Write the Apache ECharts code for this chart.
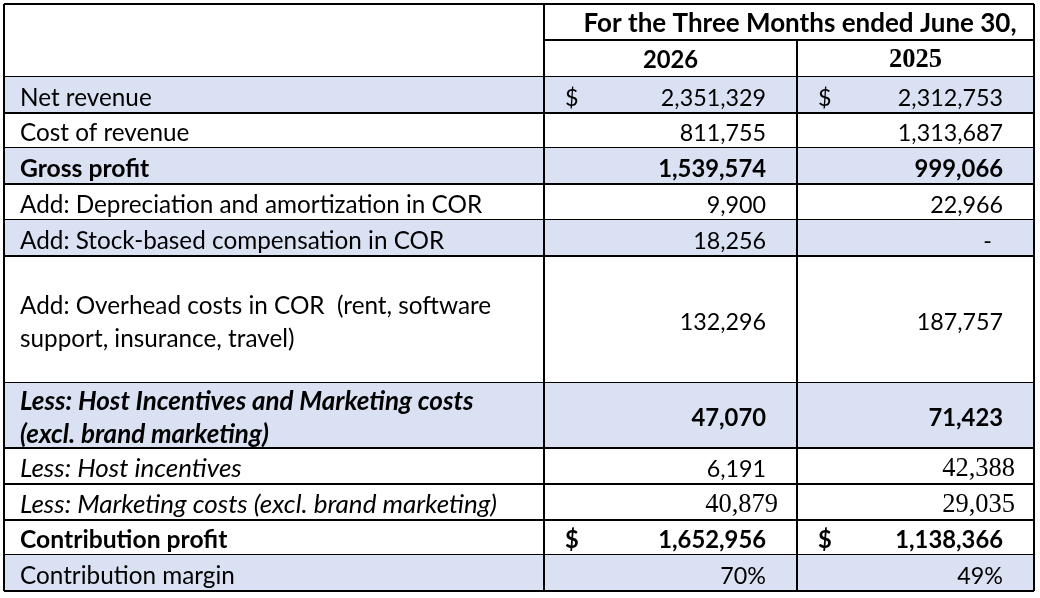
<!DOCTYPE html>
<html>
<head>
<meta charset="utf-8">
<title>Contribution profit</title>
<script src="https://cdn.jsdelivr.net/npm/echarts@6/dist/echarts.min.js"></script>
<style>
  html, body { margin: 0; padding: 0; background: #fff; }
  #main { width: 1040px; height: 598px; }
</style>
</head>
<body>
<div id="main"></div>
<script>
/* 表格数据 */
var headerTitle = 'For the Three Months ended June 30,';
var periods = ['2026', '2025'];
var rowLabels = [
  ['Net revenue'],
  ['Cost of revenue'],
  ['Gross profit'],
  ['Add: Depreciation and amortization in COR'],
  ['Add: Stock-based compensation in COR'],
  ['Add: Overhead costs in COR  (rent, software', 'support, insurance, travel)'],
  ['Less: Host Incentives and Marketing costs', '(excl. brand marketing)'],
  ['Less: Host incentives'],
  ['Less: Marketing costs (excl. brand marketing)'],
  ['Contribution profit'],
  ['Contribution margin']
];
var values2026 = [2351329, 811755, 1539574, 9900, 18256, 132296, 47070, 6191, 40879, 1652956, 70];
var values2025 = [2312753, 1313687, 999066, 22966, null, 187757, 71423, 42388, 29035, 1138366, 49];
var dollarRows = [0, 9];
var percentRows = [10];

/* 样式 */
var SANS = 'Lato';
var SERIF = 'Liberation Serif';
var size = {
  label: 24.3,      // 普通文字
  labelBold: 24.7,
  labelItalic: 26,  // 斜体（含粗斜体）
  num: 23.3,
  numBold: 23.8,
  serif: 26.5,
  title: 26
};
var shade = '#D9E1F2';
var shadedRows = [0, 2, 4, 6, 10];
var boldRows = [2, 6, 9];
var italicRows = [6, 7, 8];
// 哪些格子用衬线字体 "行-列"
var serifCells = ['7-1', '8-0', '8-1'];

/* 布局（像素） */
var colEdges = [4, 544, 797, 1034];
var headerEdges = [4, 40, 77];
var rowEdges = [77, 113, 148, 184, 220, 256, 383, 448, 484, 520, 555, 591];

function fmt(v, row) {
  if (v === null || v === undefined) return '-';
  if (percentRows.indexOf(row) >= 0) return v + '%';
  return v.toLocaleString('en-US');
}

function font(weight, italic, px, family) {
  return (italic ? 'italic ' : '') + (weight ? 'bold ' : '') + px + 'px "' + family + '"';
}

function txt(x, y, text, f, align) {
  return {
    type: 'text',
    style: {
      x: x, y: y, text: text, font: f, fill: '#000',
      align: align, verticalAlign: 'middle',
      textAlign: align, textVerticalAlign: 'middle'
    }
  };
}

function line(x1, y1, x2, y2) {
  return {
    type: 'line',
    shape: { x1: x1, y1: y1, x2: x2, y2: y2 },
    style: { stroke: '#000', lineWidth: 2 }
  };
}

function renderHeader(params, api) {
  var p = function (x, y) { return api.coord([x, y]); };
  var l = p(colEdges[0], headerEdges[0]), r = p(colEdges[3], headerEdges[2]);
  var c1 = p(colEdges[1], headerEdges[1]), c2 = p(colEdges[2], headerEdges[1]);
  var children = [
    line(l[0], l[1], r[0], l[1]),
    line(l[0], l[1], l[0], r[1]),
    line(c1[0], l[1], c1[0], r[1]),
    line(r[0], l[1], r[0], r[1]),
    line(c1[0], c1[1], r[0], c1[1]),
    line(c2[0], c2[1], c2[0], r[1]),
    line(l[0], r[1], r[0], r[1])
  ];
  var y1 = (l[1] + c1[1]) / 2 + 1.5;
  var y2 = (c1[1] + r[1]) / 2 + 1.5;
  // 标题略偏左（原表末尾有空格）
  children.push(txt((c1[0] + r[0]) / 2 + 11, y1, headerTitle, font(true, false, size.title, SANS), 'center'));
  children.push(txt((c1[0] + c2[0]) / 2, y2, periods[0], font(true, false, size.numBold, SANS), 'center'));
  children.push(txt((c2[0] + r[0]) / 2, y2, periods[1], font(true, false, size.serif, SERIF), 'center'));
  return { type: 'group', children: children };
}

function renderRow(params, api) {
  var i = api.value(0);
  var top = api.coord([0, rowEdges[i]])[1];
  var bottom = api.coord([0, rowEdges[i + 1]])[1];
  var xs = colEdges.map(function (x) { return api.coord([x, 0])[0]; });
  var children = [];
  if (shadedRows.indexOf(i) >= 0) {
    children.push({
      type: 'rect',
      shape: { x: xs[0], y: top, width: xs[3] - xs[0], height: bottom - top },
      style: { fill: shade }
    });
  }
  xs.forEach(function (x) { children.push(line(x, top, x, bottom)); });
  children.push(line(xs[0], bottom, xs[3], bottom));

  var bold = boldRows.indexOf(i) >= 0;
  var italic = italicRows.indexOf(i) >= 0;
  var mid = (top + bottom) / 2 + 3;
  var lines = rowLabels[i];
  var lh = 33;
  var labelSize = italic ? size.labelItalic : (bold ? size.labelBold : size.label);
  lines.forEach(function (s, k) {
    var y = mid + (k - (lines.length - 1) / 2) * lh;
    children.push(txt(xs[0] + 16, y, s, font(bold, italic, labelSize, SANS), 'left'));
  });

  [values2026[i], values2025[i]].forEach(function (v, c) {
    var serif = serifCells.indexOf(i + '-' + c) >= 0;
    var f = serif ? font(bold, false, size.serif, SERIF)
                  : font(bold, false, bold ? size.numBold : size.num, SANS);
    var right = xs[c + 2] - (serif ? 19 : 31);
    if (v === null) right -= 11;
    children.push(txt(right, mid, fmt(v, i), f, 'right'));
    if (dollarRows.indexOf(i) >= 0) {
      children.push(txt(xs[c + 1] + 21, mid, '$', font(bold, false, bold ? size.numBold : size.num, SANS), 'left'));
    }
  });
  return { type: 'group', children: children };
}

var chart = echarts.init(document.getElementById('main'));
chart.setOption({
  animation: false,
  grid: { left: 0, right: 0, top: 0, bottom: 0 },
  xAxis: { type: 'value', min: 0, max: 1040, show: false },
  yAxis: { type: 'value', min: 0, max: 598, inverse: true, show: false },
  series: [
    {
      type: 'custom',
      name: 'header',
      renderItem: renderHeader,
      data: [[0]]
    },
    {
      type: 'custom',
      name: 'rows',
      renderItem: renderRow,
      data: rowLabels.map(function (r, i) { return [i]; })
    }
  ]
});
</script>
</body>
</html>
